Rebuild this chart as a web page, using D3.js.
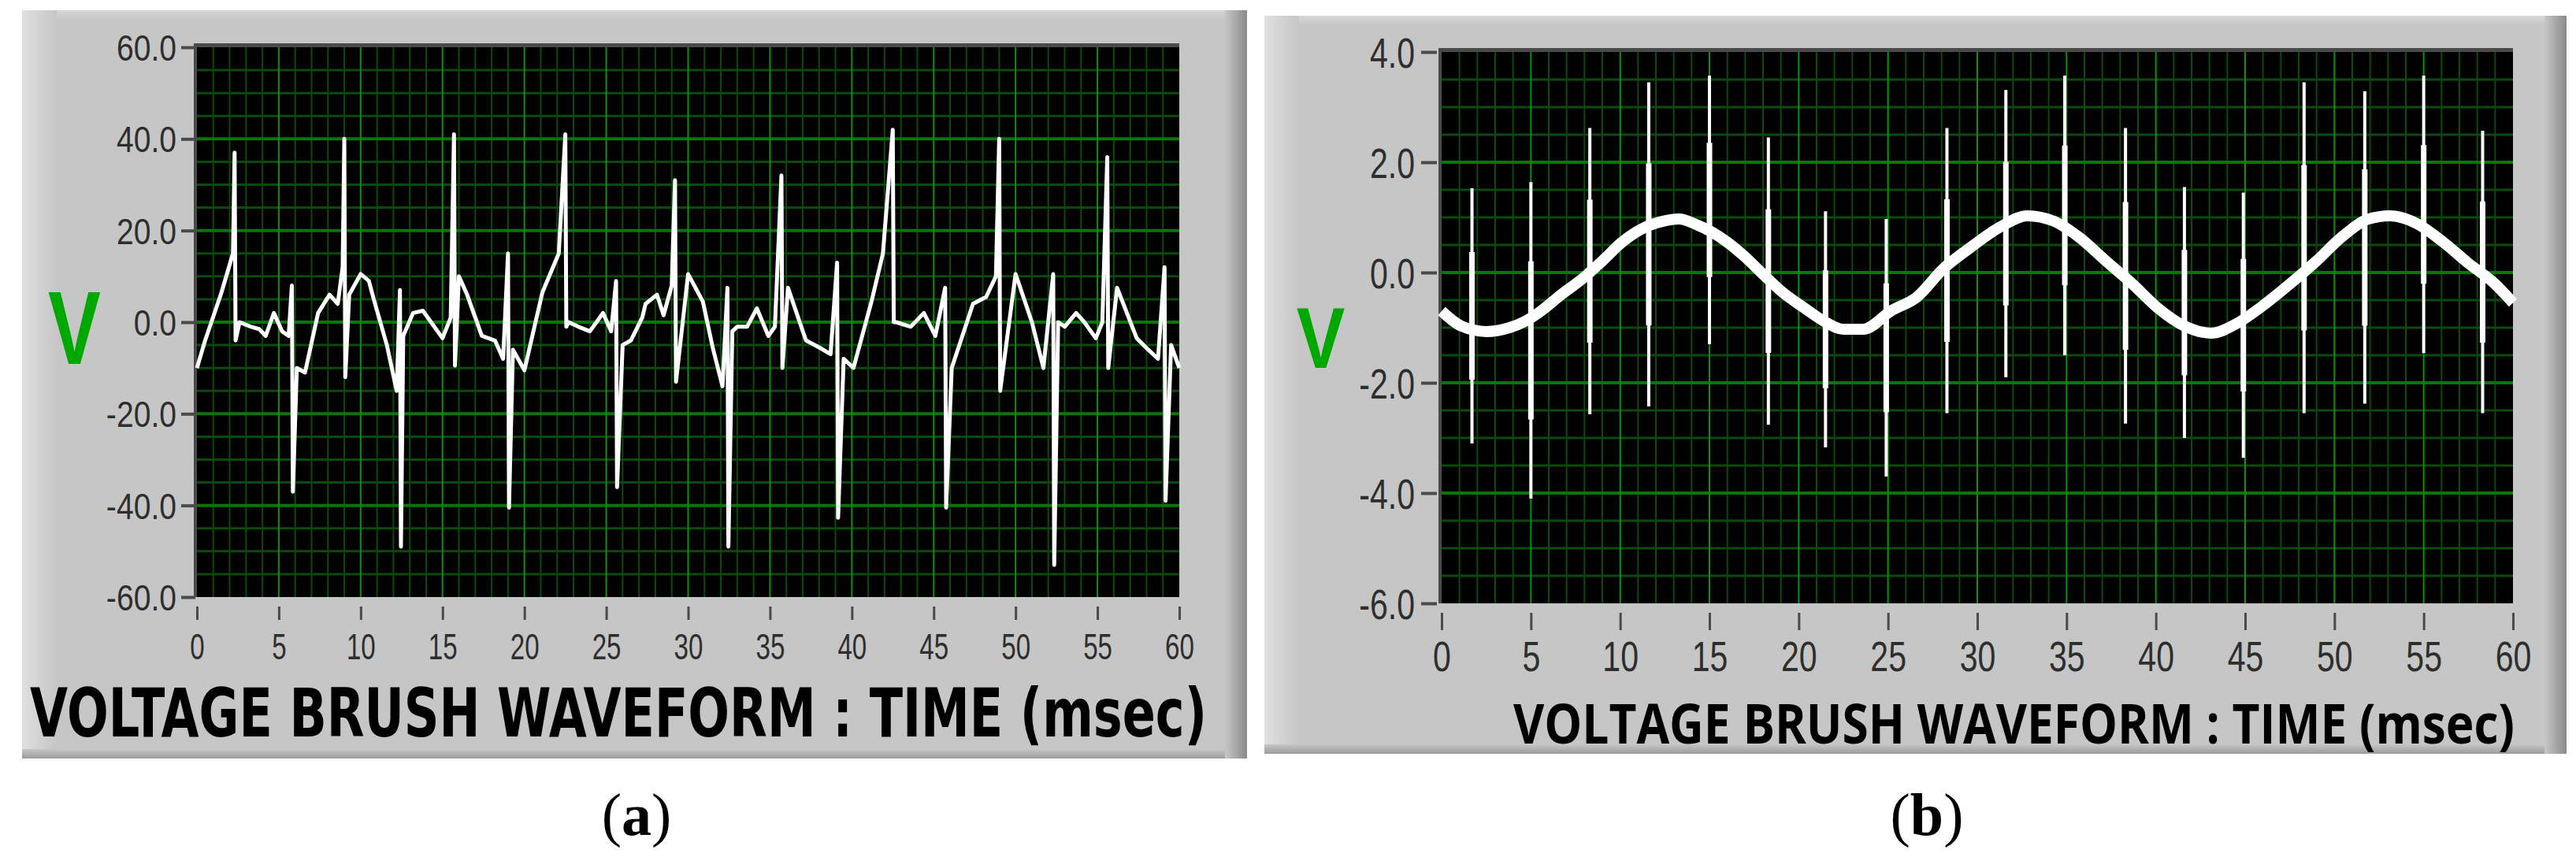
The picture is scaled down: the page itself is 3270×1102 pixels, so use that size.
<!DOCTYPE html>
<html>
<head>
<meta charset="utf-8">
<script src="https://cdn.jsdelivr.net/npm/d3@7"></script>
<style>
  body { margin: 0; background: #fff; }
  svg { display: block; }
</style>
</head>
<body>
<svg id="chart"></svg>
<script>
var width = 3270,
    height = 1102;

// (a) brush voltage trace, [time ms, volts]
var waveA = [
  [0,-10],[0.5,-4],[1.5,6.5],[2.2,15],[2.6,0],[3.3,-1],[3.8,-1.5],[4.2,-3],[4.7,2],[5.2,-2],
  [5.6,-3],[6.1,-10],[6.6,-11],[7.4,2],[8.1,6],[8.6,4],[8.9,12],[9.3,6],[10.0,10.5],[10.5,9],
  [10.8,5],[11.6,-5],[12.2,-15],[12.6,-3],[13.2,2],[13.8,2.5],[14.3,0],[15.0,-3.5],[15.5,1],
  [16.0,10],[16.5,6],[17.4,-3],[18.2,-4],[18.7,-8],[19.3,-6],[20.0,-10.5],[21.1,6.5],[22.1,15],
  [22.7,0],[23.3,-1],[24.0,-2],[24.8,2],[25.3,-2],[26.0,-5],[26.5,-4],[27.2,1],[27.4,4],[28.1,6],
  [28.5,1.5],[29.0,8],[30.0,10.5],[30.9,4.5],[31.5,-5.5],[32.1,-14],[32.7,-2],[33.0,-1],[33.6,-1],
  [34.2,3],[34.9,-3],[35.3,-1],[36.1,7.5],[37.2,-4],[38.0,-5.5],[38.7,-7],[39.5,-8],[40.1,-10],
  [41.2,4.5],[41.9,15],[42.7,0],[43.6,-1],[44.4,2],[45.1,-3],[46.1,-10],[47.4,4],[48.2,5.5],
  [48.8,10],[50.0,10.5],[51.0,0],[51.7,-10],[52.6,0],[53.0,-1],[53.7,2],[54.2,0],[54.9,-3.5],
  [55.3,0],[56.2,7.5],[57.4,-3.5],[58.1,-6],[58.7,-8],[59.5,-5],[60,-10]
];
// (a) commutation spikes: [time ms, top V, bottom V]
var spikesA = [
  [2.3,37,-4],[5.8,8,-37],[9.0,40,-12],[12.4,7,-49],[15.7,41,-9.5],[19.0,15,-40.5],
  [22.5,41,-1],[25.6,9,-36],[29.2,31,-13],[32.4,7.5,-49],[35.7,32,-10],[39.1,13,-42.7],
  [42.5,42,0],[45.7,7.5,-40.5],[49.0,40,-15],[52.3,10.5,-53],[55.6,36,-10],[59.1,12,-39]
];

// (b) smooth part of the trace, [time ms, volts]
var waveB = [
  [0,-0.7],[1.1,-0.97],[2.5,-1.07],[3.8,-1.0],[4.7,-0.88],[5.6,-0.69],[6.7,-0.4],[7.9,-0.11],
  [9.0,0.21],[10.1,0.55],[11.2,0.79],[12.4,0.93],[13.3,0.97],[14.2,0.88],[15.1,0.74],[16.0,0.55],
  [16.9,0.31],[18.0,-0.03],[19.1,-0.36],[20.3,-0.64],[21.4,-0.88],[22.5,-1.03],[23.6,-1.03],
  [25.2,-0.69],[26.6,-0.45],[28.1,0.07],[29.6,0.45],[31.3,0.83],[32.8,1.03],[34.3,0.93],
  [35.7,0.64],[37.2,0.21],[38.7,-0.21],[40.1,-0.64],[41.6,-0.97],[43.1,-1.1],[44.5,-0.93],
  [46.0,-0.6],[47.5,-0.21],[49.0,0.21],[50.4,0.64],[51.9,0.97],[53.1,1.03],[54.6,0.89],
  [56.1,0.55],[57.5,0.17],[59.0,-0.21],[60,-0.55]
];
// (b) spikes: [time ms, top V, bottom V]
var spikesB = [
  [1.7,1.53,-3.1],[5.0,1.64,-4.1],[8.3,2.62,-2.57],[11.6,3.45,-2.43],[15.0,3.57,-1.3],
  [18.3,2.45,-2.76],[21.5,1.11,-3.17],[24.9,0.97,-3.7],[28.3,2.62,-2.55],[31.6,3.31,-1.9],
  [34.9,3.57,-1.5],[38.3,2.62,-2.74],[41.6,1.55,-3.0],[44.9,1.45,-3.36],[48.3,3.45,-2.55],
  [51.7,3.29,-2.38],[55.0,3.57,-1.46],[58.3,2.57,-2.55]
];

var timeTicks = [0,5,10,15,20,25,30,35,40,45,50,55,60];
var voltTicksA = [-60,-40,-20,0,20,40,60];
var voltTicksB = [-6,-4,-2,0,2,4];
var titleText = "VOLTAGE BRUSH WAVEFORM : TIME (msec)";
var captionLetters = ["a", "b"];

var svg = d3.select("#chart").attr("width", width).attr("height", height);
var defs = svg.append("defs");

function gradient(id, x2, y2, c1, c2) {
  var g = defs.append("linearGradient").attr("id", id)
    .attr("x1", 0).attr("y1", 0).attr("x2", x2).attr("y2", y2);
  g.append("stop").attr("offset", "0%").attr("stop-color", c1);
  g.append("stop").attr("offset", "100%").attr("stop-color", c2);
}
gradient("leftBevel", 1, 0, "#e0e0e0", "#c6c6c6");
gradient("rightBevel", 1, 0, "#c6c6c6", "#8a8a8a");
gradient("topBevel", 0, 1, "#d8d8d8", "#c6c6c6");
gradient("bottomBevel", 0, 1, "#c6c6c6", "#9c9c9c");

var panels = [
  {
    frame: [28, 13, 1555, 950],
    xRange: [250, 1497], yRange: [758, 60], yDomain: [-60, 60],
    yTicks: voltTicksA, minorStepY: 5,
    yAxisX: 248, yTickSize: 18, yLabelShift: -24, yLabelScale: 0.85, labelSize: 46,
    xAxisY: 770, xTickSize: 17, xLabelDrop: 67, xLabelScale: 0.72,
    vLabel: { x: 94.5, y: 462, size: 132, sx: 0.76 },
    title: { x: 38, y: 935, len: 1494, size: 86, font: "DejaVu Sans" },
    caption: { x: 808, y: 1060 },
    lineWidth: 5
  },
  {
    frame: [1605, 20, 1653, 937],
    xRange: [1830, 3190], yRange: [766, 66], yDomain: [-6, 4],
    yTicks: voltTicksB, minorStepY: 0.5,
    yAxisX: 1824, yTickSize: 20, yLabelShift: -28, yLabelScale: 0.76, labelSize: 54,
    xAxisY: 778, xTickSize: 22, xLabelDrop: 74, xLabelScale: 0.76,
    vLabel: { x: 1676.5, y: 467, size: 110, sx: 0.84 },
    title: { x: 1921, y: 944, len: 1271, size: 70, font: "Open Sans" },
    caption: { x: 2446, y: 1060 },
    lineWidth: 14
  }
];

// squeeze a label horizontally so that its box really is narrower
function condense(sel, scale) {
  sel.each(function() {
    var len = this.getComputedTextLength();
    d3.select(this).attr("textLength", len * scale).attr("lengthAdjust", "spacingAndGlyphs");
  });
}

function drawPanel(p, idx) {
  var g = svg.append("g").attr("class", "panel-" + captionLetters[idx]);
  var f = p.frame;

  // grey LabVIEW frame with bevels
  g.append("rect").attr("x", f[0]).attr("y", f[1]).attr("width", f[2]).attr("height", f[3])
    .attr("fill", "#c6c6c6");
  g.append("rect").attr("x", f[0]).attr("y", f[1]).attr("width", f[2]).attr("height", 12)
    .attr("fill", "url(#topBevel)");
  g.append("rect").attr("x", f[0]).attr("y", f[1]).attr("width", 44).attr("height", f[3])
    .attr("fill", "url(#leftBevel)");
  g.append("rect").attr("x", f[0]).attr("y", f[1] + f[3] - 12).attr("width", f[2]).attr("height", 12)
    .attr("fill", "url(#bottomBevel)");
  g.append("rect").attr("x", f[0] + f[2] - 28).attr("y", f[1]).attr("width", 28).attr("height", f[3])
    .attr("fill", "url(#rightBevel)");

  var x = d3.scaleLinear().domain([0, 60]).range(p.xRange);
  var y = d3.scaleLinear().domain(p.yDomain).range(p.yRange);

  // plot area
  g.append("rect").attr("x", p.xRange[0] - 4).attr("y", p.yRange[1] - 5)
    .attr("width", p.xRange[1] - p.xRange[0] + 4).attr("height", p.yRange[0] - p.yRange[1] + 5)
    .attr("fill", "#4a4a4a");
  g.append("rect").attr("x", p.xRange[0]).attr("y", p.yRange[1])
    .attr("width", p.xRange[1] - p.xRange[0]).attr("height", p.yRange[0] - p.yRange[1])
    .attr("fill", "#000");

  var grid = g.append("g").attr("class", "grid");
  var minorX = d3.range(0, 60.001, 1).filter(function(d) { return d % 5 !== 0; });
  var minorY = d3.range(p.yDomain[0], p.yDomain[1] + 1e-9, p.minorStepY)
    .filter(function(d) { return p.yTicks.indexOf(Math.round(d * 1000) / 1000) < 0; });

  grid.selectAll(".minor-x").data(minorX).enter().append("line")
    .attr("x1", x).attr("x2", x).attr("y1", p.yRange[1]).attr("y2", p.yRange[0])
    .attr("stroke", "#0a4a0a").attr("stroke-width", 2);
  grid.selectAll(".minor-y").data(minorY).enter().append("line")
    .attr("x1", p.xRange[0]).attr("x2", p.xRange[1]).attr("y1", y).attr("y2", y)
    .attr("stroke", "#0a4a0a").attr("stroke-width", 3);
  grid.selectAll(".major-y").data(p.yTicks.slice(1, -1)).enter().append("line")
    .attr("x1", p.xRange[0]).attr("x2", p.xRange[1]).attr("y1", y).attr("y2", y)
    .attr("stroke", "#0b740b").attr("stroke-width", 4);
  grid.selectAll(".major-x").data(timeTicks.slice(1, -1)).enter().append("line")
    .attr("x1", x).attr("x2", x).attr("y1", p.yRange[1]).attr("y2", p.yRange[0])
    .attr("stroke", "#0d900d").attr("stroke-width", 2);

  var line = d3.line().x(function(d) { return x(d[0]); }).y(function(d) { return y(d[1]); });

  if (idx === 0) {
    var pts = waveA.slice();
    spikesA.forEach(function(s) {
      pts.push([s[0], s[1]]);
      pts.push([s[0] + 0.06, s[2]]);
    });
    pts.sort(function(a, b) { return a[0] - b[0]; });
    g.append("path").datum(pts).attr("d", line)
      .attr("fill", "none").attr("stroke", "#fff")
      .attr("stroke-width", p.lineWidth).attr("stroke-linejoin", "round");
  } else {
    g.append("path").datum(waveB).attr("d", line.curve(d3.curveMonotoneX))
      .attr("fill", "none").attr("stroke", "#fff")
      .attr("stroke-width", p.lineWidth).attr("stroke-linejoin", "round");
    var spikes = g.selectAll(".spike").data(spikesB).enter().append("g");
    // thin full-length needle
    spikes.append("line")
      .attr("x1", function(d) { return x(d[0]); }).attr("x2", function(d) { return x(d[0]); })
      .attr("y1", function(d) { return y(d[1]); }).attr("y2", function(d) { return y(d[2]); })
      .attr("stroke", "#fff").attr("stroke-width", 4);
    // thicker middle part, so the needle tapers to its tips
    spikes.append("line")
      .attr("x1", function(d) { return x(d[0]); }).attr("x2", function(d) { return x(d[0]); })
      .attr("y1", function(d) { return y(d[1] - 0.25 * (d[1] - d[2])); })
      .attr("y2", function(d) { return y(d[2] + 0.25 * (d[1] - d[2])); })
      .attr("stroke", "#fff").attr("stroke-width", 7);
  }

  // axes
  var yAxis = g.append("g").attr("transform", "translate(" + p.yAxisX + ",0)")
    .call(d3.axisLeft(y).tickValues(p.yTicks).tickSize(p.yTickSize)
      .tickFormat(function(d) { return d.toFixed(1); }));
  yAxis.select(".domain").remove();
  yAxis.selectAll(".tick line").attr("stroke", "#4a4a4a").attr("stroke-width", 4);
  yAxis.attr("font-family", "Liberation Sans, Arial, sans-serif").attr("font-size", p.labelSize);
  yAxis.selectAll(".tick text").attr("x", p.yLabelShift).attr("dy", "0.36em").attr("fill", "#2e2e2e")
    .call(condense, p.yLabelScale);

  var xAxis = g.append("g").attr("transform", "translate(0," + p.xAxisY + ")")
    .call(d3.axisBottom(x).tickValues(timeTicks).tickSize(p.xTickSize).tickFormat(d3.format("d")));
  xAxis.select(".domain").remove();
  xAxis.selectAll(".tick line").attr("stroke", "#4a4a4a").attr("stroke-width", 3);
  xAxis.attr("font-family", "Liberation Sans, Arial, sans-serif").attr("font-size", p.labelSize);
  xAxis.selectAll(".tick text").attr("y", p.xLabelDrop).attr("dy", null).attr("fill", "#2e2e2e")
    .call(condense, p.xLabelScale);

  // green unit label
  g.append("text")
    .attr("transform", "translate(" + p.vLabel.x + "," + p.vLabel.y + ") scale(" + p.vLabel.sx + ",1)")
    .attr("text-anchor", "middle")
    .attr("font-family", "Liberation Sans, Arial, sans-serif").attr("font-weight", "bold")
    .attr("font-size", p.vLabel.size).attr("fill", "#00a800")
    .text("V");

  // axis title
  g.append("text")
    .attr("x", p.title.x).attr("y", p.title.y)
    .attr("textLength", p.title.len).attr("lengthAdjust", "spacingAndGlyphs")
    .attr("font-family", p.title.font).attr("font-weight", "bold")
    .attr("font-size", p.title.size).attr("fill", "#000")
    .text(titleText);

  // caption below the panel
  var cap = svg.append("text")
    .attr("x", p.caption.x).attr("y", p.caption.y).attr("text-anchor", "middle")
    .attr("font-family", "Liberation Serif, Times New Roman, serif")
    .attr("font-size", 76).attr("fill", "#000");
  cap.append("tspan").text("(");
  cap.append("tspan").attr("font-weight", "bold").text(captionLetters[idx]);
  cap.append("tspan").text(")");
}

panels.forEach(drawPanel);
</script>
</body>
</html>
